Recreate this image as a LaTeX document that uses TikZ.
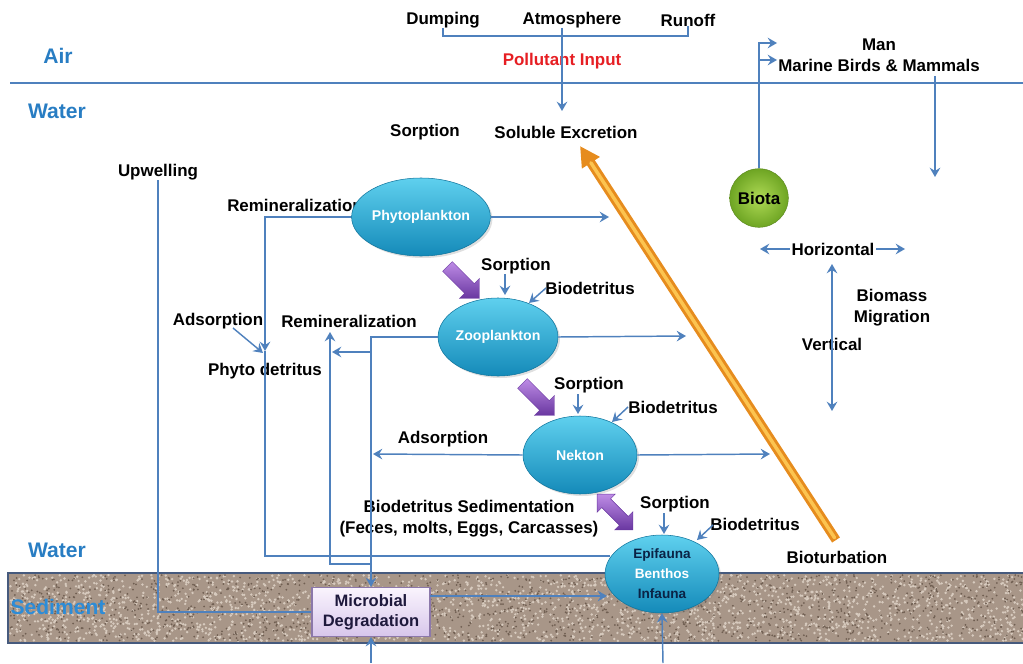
\documentclass[tikz,border=0pt]{standalone}
\usepackage{fontspec}
\setmainfont{Liberation Sans}
\usetikzlibrary{arrows.meta,shapes.geometric,shapes.arrows,shadows,calc}
\definecolor{lnblue}{RGB}{79,129,189}
\definecolor{lblblue}{RGB}{40,125,195}
\definecolor{polred}{RGB}{230,30,35}
\definecolor{cyanT}{RGB}{95,208,238}
\definecolor{cyanB}{RGB}{20,138,185}
\definecolor{purT}{RGB}{190,140,230}
\definecolor{purB}{RGB}{105,55,160}
\definecolor{orD}{RGB}{230,140,30}
\definecolor{orL}{RGB}{252,196,80}
\definecolor{sedBase}{RGB}{168,150,136}
\definecolor{sedL}{RGB}{215,202,190}
\definecolor{sedD}{RGB}{112,95,82}
\definecolor{sedEdge}{RGB}{70,90,125}
\definecolor{navy}{RGB}{10,35,70}
\definecolor{boxT}{RGB}{250,244,253}
\definecolor{boxB}{RGB}{215,198,235}
\definecolor{boxE}{RGB}{140,120,170}
\definecolor{bioL}{RGB}{175,218,85}
\definecolor{bioD}{RGB}{110,165,35}
\begin{document}
\begin{tikzpicture}[x=0.75pt,y=-0.75pt,
  lbl/.style={font=\fontsize{12.7}{15.75}\selectfont\bfseries, inner sep=0pt, text=black},
  zone/.style={font=\fontsize{15.8}{18}\selectfont\bfseries, inner sep=0pt, text=lblblue},
  conn/.style={draw=lnblue, line width=1.1pt, -{Stealth[length=7pt,width=8pt,inset=2.5pt]}},
  dconn/.style={draw=lnblue, line width=1.1pt, {Stealth[length=7pt,width=8pt,inset=2.5pt]}-{Stealth[length=7pt,width=8pt,inset=2.5pt]}},
  plain/.style={draw=lnblue, line width=1.1pt},
  org/.style={ellipse, minimum width=85.5pt, minimum height=58.5pt, inner sep=0pt,
    top color=cyanT, bottom color=cyanB, draw=cyanB!85!black, line width=0.4pt,
    text=white, font=\fontsize{10.6}{12}\selectfont\bfseries,
    drop shadow={opacity=0.25,shadow xshift=1.5pt,shadow yshift=-1.5pt}},
  parrow/.style={single arrow, single arrow head extend=5.5pt, minimum height=34pt,
    inner sep=5pt, top color=purT, bottom color=purB, draw=purB, line width=0.3pt},
  pdarrow/.style={double arrow, double arrow head extend=5pt, minimum height=38pt,
    inner sep=4.5pt, top color=purT, bottom color=purB, draw=purB, line width=0.3pt},
]
\useasboundingbox (0,0) rectangle (1023,663);

% ---- sediment band
\fill[sedBase] (8,573) rectangle (1025,643);
\pgfmathsetseed{42}
\foreach \i in {1,...,2300}{
  \pgfmathsetmacro{\xx}{10+1013*rnd}
  \pgfmathsetmacro{\yy}{575+66*rnd}
  \fill[sedL] (\xx,\yy) circle (1.0pt);
}
\foreach \i in {1,...,1500}{
  \pgfmathsetmacro{\xx}{10+1013*rnd}
  \pgfmathsetmacro{\yy}{575+66*rnd}
  \fill[sedD] (\xx,\yy) circle (0.75pt);
}
\draw[sedEdge, line width=1.4pt] (8,573) rectangle (1025,643);

% ---- air/water line
\coordinate (surfL) at (10,83);
\coordinate (surfR) at (1023,83);
\draw[lnblue, line width=1.4pt] (surfL) -- (surfR);

% ---- zone labels
\node[zone] (air) at (58,56) {Air};
\node[zone] (water1) at (57,111) {Water};
\node[zone] (water2) at (57,550) {Water};
\node[zone, text={rgb,255:red,45;green,140;blue,215}] (sed) at (58,607) {Sediment};

% ---- top inputs
\node[lbl] (dump) at (443,20) {Dumping};
\node[lbl] (atm) at (572,20) {Atmosphere};
\node[lbl] (run) at (688,20) {Runoff};
\node[lbl, text=polred] (pol) at (562,61) {Pollutant Input};
\node[lbl] (sorp0) at (425,132) {Sorption};
\node[lbl] (solex) at (566,132) {Soluble Excretion};
\coordinate (atmB) at (562,28);
\coordinate (inTip) at (562,111);
\draw[plain] (dump.south) -- ++(0,8) -| (run.south);
\draw[conn] (atmB) -- (inTip);

% ---- left labels
\node[lbl] (upw) at (158,172) {Upwelling};
\node[lbl] (remin1) at (295,205) {Remineralization};
\node[lbl] (ads1) at (218,321) {Adsorption};
\node[lbl] (remin2) at (349,321) {Remineralization};
\node[lbl] (phdet) at (265,371) {Phyto detritus};
\node[lbl] (ads2) at (443,439) {Adsorption};
\node[lbl, align=center] (sedim) at (469,519) {Biodetritus Sedimentation\\(Feces, molts, Eggs, Carcasses)};

% ---- organisms
\node[org] (phyto) at (421,217) {Phytoplankton};
\node[org] (zoo) at (498,337) {Zooplankton};
\node[org] (nek) at (580,455) {Nekton};
\node[org, align=center, font=\fontsize{10.2}{15}\selectfont\bfseries] (epi) at (662,574)
  {\textcolor{navy}{Epifauna}\\Benthos\\\textcolor{navy}{Infauna}};
\node[circle, minimum size=44pt, inner sep=0pt, inner color=bioL, outer color=bioD,
  draw=bioD!80!black, line width=0.3pt, text=black,
  font=\fontsize{12.7}{15}\selectfont\bfseries] (biota) at (759,198) {Biota};
\node[draw=boxE, line width=0.8pt, top color=boxT, bottom color=boxB, minimum width=88.5pt,
  minimum height=36.75pt, inner sep=0pt, align=center, text={rgb,255:red,30;green,25;blue,60},
  font=\fontsize{12.4}{14.8}\selectfont\bfseries] (micro) at (371,612) {Microbial\\Degradation};

% ---- small feeding labels
\node[lbl] (sorp1) at (516,266) {Sorption};
\node[lbl] (bio1) at (590,288) {Biodetritus};
\node[lbl] (sorp2) at (589,385) {Sorption};
\node[lbl] (bio2) at (673,407) {Biodetritus};
\node[lbl] (sorp3) at (675,504) {Sorption};
\node[lbl] (bio3) at (755,524) {Biodetritus};
\node[lbl] (biot) at (837,557) {Bioturbation};

% ---- right side labels
\node[lbl] (man) at (879,45) {Man};
\node[lbl] (marine) at (879,65) {Marine Birds \& Mammals};
\node[lbl, align=center] (biomass) at (892,308) {Biomass\\Migration};

% ---- connectors: phytoplankton
\coordinate (pdA) at (265,351);
\coordinate (eL) at (610,556);
\coordinate (p1) at (609,217);
\draw[conn] (phyto.west) -| (pdA);
\draw[plain] (pdA) |- (eL);
\draw[conn] (phyto.east) -- (p1);

% ---- zooplankton
\coordinate (zb) at (371,352);
\coordinate (zbT) at (332,352);
\coordinate (zc) at (371,564);
\coordinate (rmT) at (330,332);
\coordinate (z1) at (686,336);
\draw[conn] (zoo.west) -| (micro.north);
\draw[conn] (zb) -- (zbT);
\draw[conn] (zc) -| (rmT);
\draw[conn] (zoo.east) -- (z1);

% ---- nekton
\coordinate (nL) at (373,454);
\coordinate (nR) at (770,454);
\draw[conn] (nek.west) -- (nL);
\draw[conn] (nek.east) -- (nR);

% ---- adsorption to phyto detritus
\coordinate (a1s) at (233,328);
\coordinate (a1e) at (263,353);
\draw[conn] (a1s) -- (a1e);

% ---- sorption / biodetritus small arrows
\coordinate (s1a) at (505,274); \coordinate (s1b) at (505,295);
\coordinate (b1a) at (546,288); \coordinate (b1b) at (529,303);
\coordinate (s2a) at (578,394); \coordinate (s2b) at (578,414);
\coordinate (b2a) at (628,407); \coordinate (b2b) at (612,422);
\coordinate (s3a) at (664,513); \coordinate (s3b) at (664,534);
\coordinate (b3a) at (713,525); \coordinate (b3b) at (697,540);
\draw[conn] (s1a) -- (s1b);
\draw[conn] (b1a) -- (b1b);
\draw[conn] (s2a) -- (s2b);
\draw[conn] (b2a) -- (b2b);
\draw[conn] (s3a) -- (s3b);
\draw[conn] (b3a) -- (b3b);

% ---- upwelling, microbial, bottom inputs
\coordinate (m1) at (430,596);
\coordinate (e1) at (607,596);
\coordinate (bot1) at (371,663);
\coordinate (bot2) at (663,663);
\draw[plain] (upw.south) |- (micro.west);
\draw[conn] (m1) -- (e1);
\draw[conn] (bot1) -- (micro.south);
\draw[conn] (bot2) -- (epi.south);

% ---- biota outputs
\coordinate (man1) at (777,43);
\coordinate (brk) at (759,60);
\coordinate (man2) at (777,60);
\coordinate (mb1) at (935,76);
\coordinate (mb2) at (935,177);
\draw[conn] (biota.north) |- (man1);
\draw[conn] (brk) -- (man2);
\draw[conn] (mb1) -- (mb2);

% ---- migration arrows
\coordinate (hL) at (760,249);
\coordinate (hR) at (905,249);
\coordinate (vT) at (832,264);
\coordinate (vB) at (832,411);
\draw[dconn] (hL) -- (hR);
\node[lbl, fill=white, inner xsep=1pt] (horiz) at (833,249) {Horizontal};
\node[lbl] (vert) at (832,344) {Vertical};
\draw[dconn] (vT) -- (vB);

% ---- bioturbation orange arrow
\coordinate (btA) at (836,540);
\coordinate (btB) at (580,146);
\draw[orD, line width=7pt, -{Triangle[length=15pt,width=15pt]}] (btA) -- (btB);
\draw[orL, line width=2.6pt, line cap=round, shorten >=15pt, shorten <=2pt] (btA) -- (btB);

% ---- purple trophic arrows
\node[parrow, rotate=-45] (pa1) at (461,280) {};
\node[parrow, rotate=-45] (pa2) at (536,397) {};
\node[pdarrow, rotate=-45] (pa3) at (615,512) {};
\end{tikzpicture}
\end{document}
